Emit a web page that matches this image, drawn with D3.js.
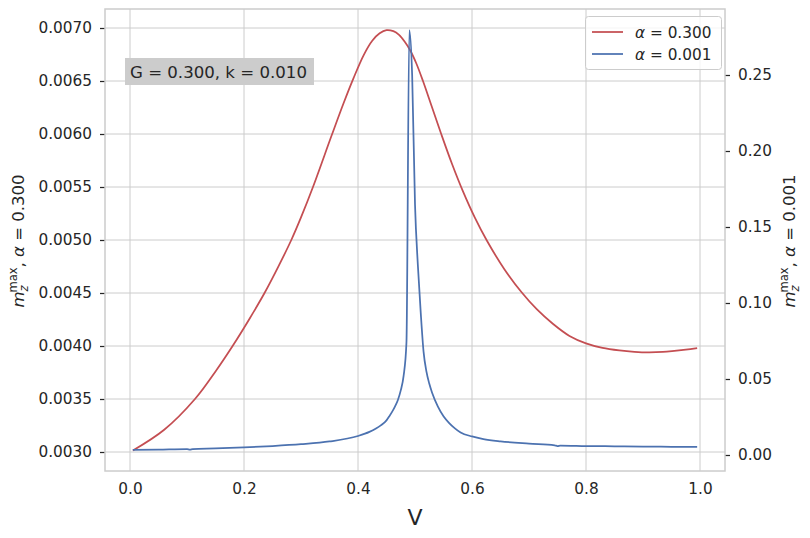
<!DOCTYPE html>
<html><head><meta charset="utf-8">
<script src="https://cdn.jsdelivr.net/npm/d3@7"></script>
<style>
html,body{margin:0;padding:0;background:#fff;}
svg{display:block;font-family:"DejaVu Sans",sans-serif;}
</style></head>
<body>
<svg id="chart" width="810" height="538"></svg>
<script>
// ---- data ----
const vRed = [0.005,0.06,0.114,0.15,0.18,0.21,0.236,0.26,0.283,0.30,0.321,0.354,0.375,0.392,0.41,0.425,0.438,0.45,0.462,0.472,0.482,0.491,0.502,0.514,0.53,0.546,0.565,0.584,0.605,0.626,0.6565,0.687,0.714,0.7418,0.771,0.8,0.829,0.8585,0.885,0.91,0.935,0.955,0.975,0.995];
const mzRed = [0.003014,0.00321,0.0035,0.00376,0.0040,0.00426,0.0045,0.004747,0.0050,0.005213,0.0055,0.00599,0.006295,0.006525,0.006745,0.00688,0.00695,0.00698,0.00697,0.006935,0.00687,0.006795,0.00667,0.0065,0.00625,0.0060,0.005717,0.005461,0.005211,0.004995,0.004727,0.004507,0.004345,0.00421,0.004095,0.004025,0.003982,0.003958,0.003945,0.00394,0.003944,0.003954,0.003966,0.00398];

const vBlue = [0.005,0.05,0.1,0.105,0.11,0.15,0.2,0.25,0.3,0.35,0.4,0.42,0.44,0.45,0.455,0.46,0.465,0.47,0.475,0.48,0.485,0.49,0.495,0.5,0.505,0.51,0.515,0.52,0.525,0.53,0.54,0.55,0.56,0.57,0.58,0.6,0.62,0.65,0.7,0.745,0.75,0.755,0.8,0.85,0.9,0.95,0.995];
const mzBlue = [0.0033,0.0035,0.0038,0.0035,0.0039,0.0043,0.0050,0.0059,0.0071,0.0089,0.0125,0.0152,0.0195,0.0228,0.0255,0.0285,0.032,0.0362,0.0425,0.052,0.074,0.2796,0.25,0.165,0.125,0.094,0.068,0.055,0.047,0.041,0.032,0.0255,0.021,0.0175,0.0148,0.0122,0.0105,0.009,0.0075,0.0064,0.0059,0.0062,0.0059,0.0057,0.0055,0.0054,0.0053];

const xTicks = [0.0,0.2,0.4,0.6,0.8,1.0];
const yLeftTicks = [0.0030,0.0035,0.0040,0.0045,0.0050,0.0055,0.0060,0.0065,0.0070];
const yRightTicks = [0.00,0.05,0.10,0.15,0.20,0.25];
const seriesLabels = ["\u03B1 = 0.300","\u03B1 = 0.001"];
const annotation = "G = 0.300, k = 0.010";

// ---- layout ----
const L=105,R=725,T=9,B=471;
const red="#c44e52", blue="#4c72b0", grid="#cccccc", txt="#262626";
const svg=d3.select("#chart");

const x=d3.scaleLinear().domain([-25/570,1+25/570]).range([L,R]);
const yL=d3.scaleLinear().domain([0.0030-19/106000,0.0070+19/106000]).range([B,T]);
const yR=d3.scaleLinear().domain([-16/1520,446/1520]).range([B,T]);

svg.append("rect").attr("x",L).attr("y",T).attr("width",R-L).attr("height",B-T).attr("fill","#fff");

// grid
svg.append("g").selectAll("line").data(xTicks).join("line")
  .attr("x1",d=>x(d)).attr("x2",d=>x(d)).attr("y1",T).attr("y2",B)
  .attr("stroke",grid).attr("stroke-width",1);
svg.append("g").selectAll("line").data(yLeftTicks).join("line")
  .attr("x1",L).attr("x2",R).attr("y1",d=>yL(d)).attr("y2",d=>yL(d))
  .attr("stroke",grid).attr("stroke-width",1);

// axes
const fs="15.3px";
const gx=svg.append("g").attr("transform",`translate(0,${B})`)
  .call(d3.axisBottom(x).tickValues(xTicks).tickFormat(d3.format(".1f")).tickSize(0).tickPadding(12));
const gl=svg.append("g").attr("transform",`translate(${L},0)`)
  .call(d3.axisLeft(yL).tickValues(yLeftTicks).tickFormat(d3.format(".4f")).tickSize(5).tickPadding(8));
const gr=svg.append("g").attr("transform",`translate(${R},0)`)
  .call(d3.axisRight(yR).tickValues(yRightTicks).tickFormat(d3.format(".2f")).tickSize(5).tickPadding(8));
[gx,gl,gr].forEach(g=>{
  g.select(".domain").remove();
  g.selectAll("text").attr("fill",txt).style("font-size",fs).style("font-family","DejaVu Sans");
  g.selectAll("line").attr("stroke",txt).attr("stroke-width",1.25);
});

// lines
const lineL=d3.line().curve(d3.curveCatmullRom.alpha(0.5)).x(d=>x(d[0])).y(d=>yL(d[1]));
const lineR=d3.line().curve(d3.curveMonotoneX).x(d=>x(d[0])).y(d=>yR(d[1]));
svg.append("path").datum(d3.zip(vRed,mzRed)).attr("d",lineL)
  .attr("fill","none").attr("stroke",red).attr("stroke-width",1.75).attr("stroke-linejoin","round");
svg.append("path").datum(d3.zip(vBlue,mzBlue)).attr("d",lineR)
  .attr("fill","none").attr("stroke",blue).attr("stroke-width",1.75).attr("stroke-linejoin","round");

// frame
svg.append("rect").attr("x",L).attr("y",T).attr("width",R-L).attr("height",B-T)
  .attr("fill","none").attr("stroke","#cccccc").attr("stroke-width",1.5);

// annotation box
const ann=svg.append("g");
ann.append("rect").attr("x",125).attr("y",58).attr("width",189).attr("height",27).attr("fill","#cccccc");
ann.append("text").attr("x",130).attr("y",77.5).attr("fill",txt).style("font-size","16.6px").text(annotation);

// legend
const lg=svg.append("g");
lg.append("rect").attr("x",585.5).attr("y",16.5).attr("width",136).attr("height",53).attr("rx",3)
  .attr("fill","#fff").attr("fill-opacity",0.8).attr("stroke","#cccccc").attr("stroke-width",1);
[[red,seriesLabels[0]],[blue,seriesLabels[1]]].forEach((s,i)=>{
  const cy=32+i*22;
  lg.append("line").attr("x1",592).attr("x2",623).attr("y1",cy).attr("y2",cy).attr("stroke",s[0]).attr("stroke-width",1.75);
  const t=lg.append("text").attr("x",635).attr("y",cy+5.5).attr("fill",txt).style("font-size",fs);
  t.append("tspan").style("font-style","italic").text("\u03B1");
  t.append("tspan").text(s[1].slice(1));
});

// x label
svg.append("text").attr("x",(L+R)/2).attr("y",525).attr("text-anchor","middle")
  .attr("fill",txt).style("font-size","22px").text("V");

// y labels
function ylabel(cx,cy,val){
  const t=svg.append("text").attr("transform",`translate(${cx},${cy}) rotate(-90)`)
    .attr("text-anchor","middle").attr("fill",txt).style("font-size","16.5px");
  t.append("tspan").style("font-style","italic").text("m");
  t.append("tspan").style("font-style","italic").style("font-size","11.5px").attr("dy","4").text("z");
  t.append("tspan").style("font-size","11.5px").attr("dx","-7").attr("dy","-11").text("max");
  t.append("tspan").attr("dy","7").text(", ");
  t.append("tspan").style("font-style","italic").text("\u03B1");
  t.append("tspan").text(" = "+val);
}
ylabel(24,241,"0.300");
ylabel(795,241,"0.001");
</script>
</body></html>
